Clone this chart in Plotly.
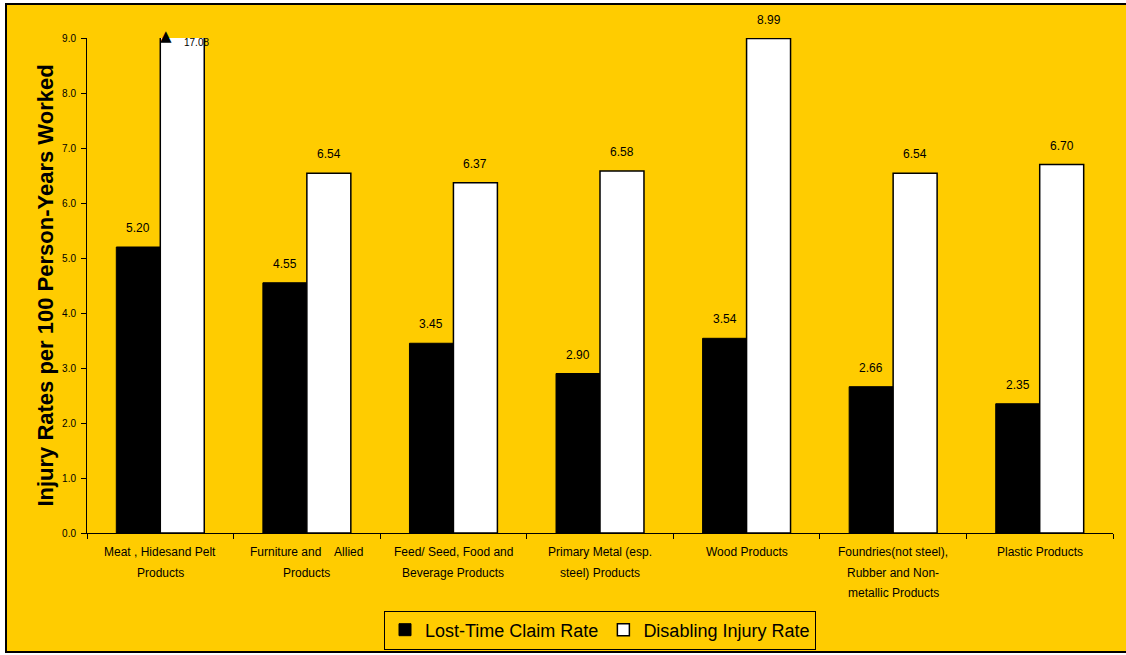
import plotly.graph_objects as go

categories = ["Meat", "Furniture", "Feed", "Primary", "Wood", "Foundries", "Plastic"]
category_lines = [
    ["Meat , Hidesand Pelt", "Products"],
    ["Furniture and    Allied", "Products"],
    ["Feed/ Seed, Food and", "Beverage Products"],
    ["Primary Metal (esp.", "steel) Products"],
    ["Wood Products"],
    ["Foundries(not steel),", "Rubber and Non-", "metallic Products"],
    ["Plastic Products"],
]
lost_time = [5.20, 4.55, 3.45, 2.90, 3.54, 2.66, 2.35]
disabling = [17.08, 6.54, 6.37, 6.58, 8.99, 6.54, 6.70]
y_ticks = [0, 1, 2, 3, 4, 5, 6, 7, 8, 9]
y_max = 9.0

YELLOW = "#FFCC00"
FONT = "Liberation Sans, Arial, sans-serif"

fig = go.Figure()
fig.add_trace(go.Bar(x=categories, y=lost_time, name="Lost-Time Claim Rate",
                     marker=dict(color="black", line=dict(color="black", width=1))))
fig.add_trace(go.Bar(x=categories, y=disabling, name="Disabling Injury Rate",
                     marker=dict(color="white", line=dict(color="black", width=1.5))))

annotations = []
# value labels
for i, c in enumerate(categories):
    annotations.append(dict(x=c, y=lost_time[i], xref="x", yref="y", text=f"{lost_time[i]:.2f}",
                            showarrow=False, xshift=-22, yshift=19,
                            font=dict(size=12, color="black", family=FONT)))
    if disabling[i] <= y_max:
        annotations.append(dict(x=c, y=disabling[i], xref="x", yref="y", text=f"{disabling[i]:.2f}",
                                showarrow=False, xshift=22, yshift=19,
                                font=dict(size=12, color="black", family=FONT)))
    else:
        annotations.append(dict(x=c, y=y_max, xref="x", yref="y", text="▲",
                                showarrow=False, xshift=6, yshift=2,
                                font=dict(size=15, color="black", family="DejaVu Sans")))
        annotations.append(dict(x=c, y=y_max, xref="x", yref="y", text=f"{disabling[i]:.2f}",
                                showarrow=False, xshift=36, yshift=-4,
                                font=dict(size=10, color="black", family=FONT)))
# category labels
for i, c in enumerate(categories):
    for j, line in enumerate(category_lines[i]):
        annotations.append(dict(x=c, y=0, xref="x", yref="y", text=line, showarrow=False,
                                yshift=-19 - 20.5 * j,
                                font=dict(size=12, color="black", family=FONT)))

fig.update_layout(
    width=1126, height=655,
    margin=dict(l=87, r=13, t=38, b=122, autoexpand=False),
    paper_bgcolor="white",
    plot_bgcolor="rgba(0,0,0,0)",
    barmode="group",
    bargap=0.4,
    bargroupgap=0,
    font=dict(family=FONT, color="black"),
    showlegend=True,
    legend=dict(orientation="h", x=0.5, xanchor="center", xref="paper",
                y=1 - 630 / 655, yanchor="middle", yref="container",
                bgcolor=YELLOW, bordercolor="black", borderwidth=1,
                font=dict(size=18, family=FONT, color="black"),
                itemwidth=30, tracegroupgap=0),
    xaxis=dict(type="category", showline=True, linecolor="black", linewidth=1,
               ticks="outside", tickson="boundaries", ticklen=5, tickcolor="black",
               showticklabels=False, showgrid=False, zeroline=False),
    yaxis=dict(range=[0, y_max], tickvals=y_ticks, ticktext=[f"{v:.1f}" for v in y_ticks],
               showline=True, linecolor="black", linewidth=1,
               ticks="outside", ticklen=5, tickcolor="black", ticklabelstandoff=3,
               tickfont=dict(size=10, family=FONT), showgrid=False, zeroline=False,
               title=dict(text="<b>Injury Rates per 100 Person-Years Worked</b>",
                          font=dict(size=22, family=FONT), standoff=2)),
    annotations=annotations,
    shapes=[dict(type="rect", xref="paper", yref="paper",
                 x0=(6 - 87) / 1026, x1=(1135 - 87) / 1026,
                 y0=(533 - 652) / 495, y1=(533 - 4) / 495,
                 fillcolor=YELLOW, line=dict(color="black", width=2), layer="below")],
)

fig.write_html("out.html")
